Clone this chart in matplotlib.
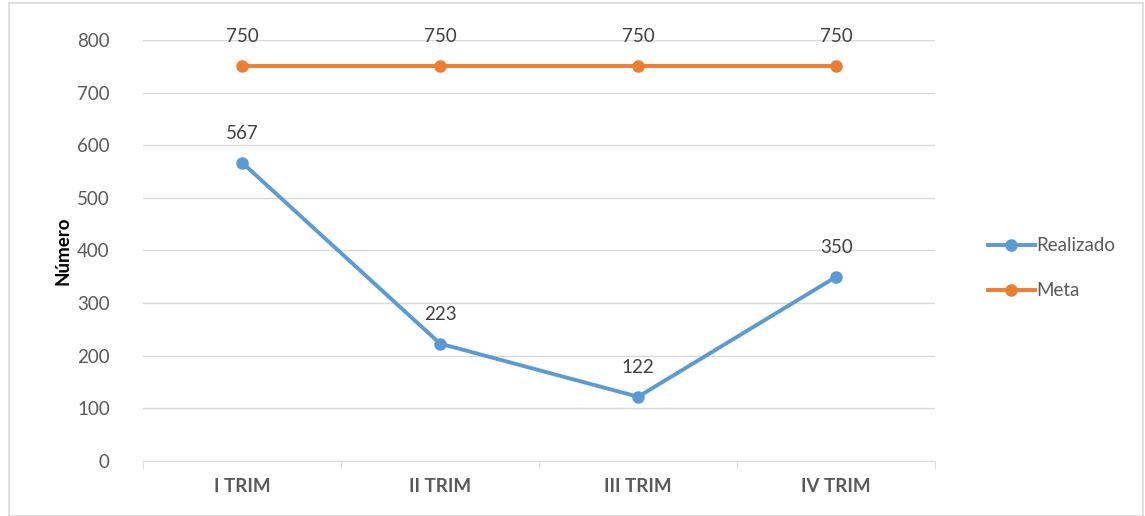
import matplotlib
matplotlib.use("Agg")
import matplotlib.pyplot as plt
from matplotlib.patches import Rectangle

plt.rcParams["font.family"] = ["Lato", "DejaVu Sans"]

# Data
categorias = ["I TRIM", "II TRIM", "III TRIM", "IV TRIM"]
realizado = [567, 223, 122, 350]
meta = [750, 750, 750, 750]

azul = "#5B9BD5"
naranja = "#ED7D31"
gris = "#595959"

fig = plt.figure(figsize=(11.45, 5.16), dpi=100)
ax = fig.add_axes([0.125, 0.1066, 0.6917, 0.8159])

x = list(range(len(categorias)))
ax.plot(x, realizado, color=azul, lw=2.8, marker="o", ms=8, label="Realizado")
ax.plot(x, meta, color=naranja, lw=2.8, marker="o", ms=8, label="Meta")

for xi, v in zip(x, realizado):
    ax.annotate(str(v), (xi, v), xytext=(0, 15), textcoords="offset points",
                ha="center", va="bottom", fontsize=13.5, color="#404040")
for xi, v in zip(x, meta):
    ax.annotate(str(v), (xi, v), xytext=(0, 15), textcoords="offset points",
                ha="center", va="bottom", fontsize=13.5, color="#404040")

ax.set_xlim(-0.5, 3.5)
ax.set_ylim(0, 800)
ax.set_yticks(range(0, 801, 100))
ax.grid(axis="y", color="#D9D9D9", lw=1)
ax.set_axisbelow(True)

ax.set_xticks(x)
ax.set_xticklabels(categorias, fontsize=13.5, fontweight="bold", color=gris)
ax.set_xticks([-0.5, 0.5, 1.5, 2.5, 3.5], minor=True)
ax.tick_params(axis="x", which="major", length=0, pad=12)
ax.tick_params(axis="x", which="minor", length=6, color="#D9D9D9")
ax.tick_params(axis="y", length=0, labelsize=13.5, labelcolor=gris, pad=24)

for s in ["top", "right", "left"]:
    ax.spines[s].set_visible(False)
ax.spines["bottom"].set_color("#D9D9D9")

ax.set_ylabel("Número", fontsize=13.5, fontweight="bold", color="#000000", labelpad=4)

leg = fig.legend(loc="center left", bbox_to_anchor=(0.848, 0.48), frameon=False,
                 fontsize=13.5, handlelength=2.5, labelspacing=1.5, handletextpad=0.1)
for t in leg.get_texts():
    t.set_color(gris)

fig.patches.append(Rectangle((0.008, 0.0), 0.99, 0.995, transform=fig.transFigure,
                             fill=False, edgecolor="#D9D9D9", lw=1.2))

fig.savefig("out.png", dpi=100)
